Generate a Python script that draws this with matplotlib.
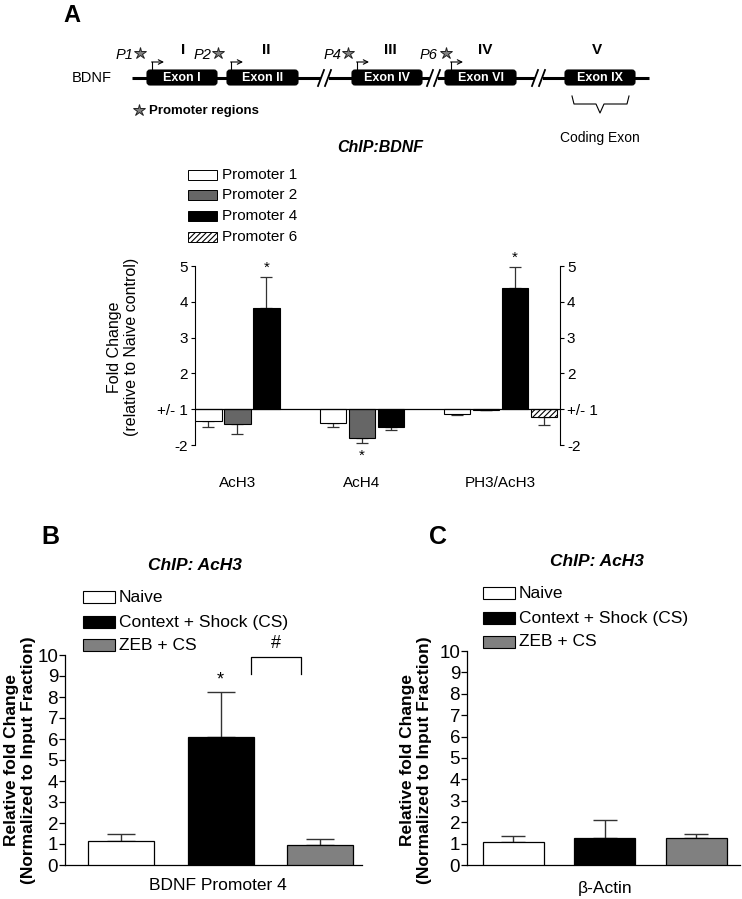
import numpy as np
import matplotlib
matplotlib.use("Agg")
import matplotlib.pyplot as plt
from matplotlib.patches import FancyBboxPatch, Rectangle

plt.rcParams['font.family'] = ['Liberation Sans', 'DejaVu Sans']
plt.rcParams['hatch.linewidth'] = 0.8

W, H = 742, 899
fig = plt.figure(figsize=(W / 100, H / 100), dpi=100)

# ---------------- data ----------------
# Panel A: fold change relative to naive (negative = fold decrease)
a_groups = ["AcH3", "AcH4", "PH3/AcH3"]
a_series = ["Promoter 1", "Promoter 2", "Promoter 4", "Promoter 6"]
a_p1 = [-1.33, -1.38, -1.14]
a_p1_err = [0.17, 0.11, 0.02]
a_p2 = [-1.40, -1.80, -1.03]
a_p2_err = [0.29, 0.15, 0.0]
a_p4 = [3.82, -1.50, 4.39]
a_p4_err = [0.86, 0.08, 0.57]
a_p6 = [np.nan, np.nan, -1.23]
a_p6_err = [np.nan, np.nan, 0.22]
a_tick_values = [-2, 1, 2, 3, 4, 5]
a_tick_labels = ["-2", "+/- 1", "2", "3", "4", "5"]
a_sig = [(0, 2), (1, 1), (2, 2)]  # (group, series) marked with *

# Panels B and C
bc_groups = ["Naive", "Context + Shock (CS)", "ZEB + CS"]
b_values = [1.14, 6.11, 0.94]
b_err = [0.32, 2.11, 0.28]
c_values = [1.09, 1.28, 1.25]
c_err = [0.28, 0.82, 0.21]
bc_ticks = list(range(0, 11))

# ---------------- helpers ----------------
def axes_px(x0, y0, x1, y1):
    return fig.add_axes([x0 / W, 1 - y1 / H, (x1 - x0) / W, (y1 - y0) / H])

ov = fig.add_axes([0, 0, 1, 1])
ov.set_xlim(0, W)
ov.set_ylim(H, 0)
ov.axis('off')
ov.patch.set_alpha(0)

def to_axis(f):
    f = np.asarray(f, dtype=float)
    return np.where(f >= 0, f - 1, f + 1)

# ---------------- Panel A diagram ----------------
ov.text(72, 15, "A", fontsize=17, fontweight='bold', ha='center', va='center')
ov.text(92, 78, "BDNF", fontsize=10.5, ha='center', va='center')
ov.plot([132, 649], [78, 78], color='black', lw=2.2, solid_capstyle='butt', zorder=1)

exons = [("Exon I", 147, 217), ("Exon II", 227, 298), ("Exon IV", 352, 422),
         ("Exon VI", 445, 516), ("Exon IX", 565, 635)]
for name, x0, x1 in exons:
    ov.add_patch(FancyBboxPatch((x0, 70), x1 - x0, 15,
                                boxstyle="round,pad=0,rounding_size=3",
                                fc='black', ec='black', lw=0.8, zorder=3))
    ov.text((x0 + x1) / 2, 78, name, color='white', fontsize=9,
            fontweight='bold', ha='center', va='center', zorder=4)

for bx in [325, 434, 539]:
    ov.add_patch(Rectangle((bx - 4, 74), 8, 8, fc='white', ec='none', zorder=2))
    for dx in (-4, 3):
        ov.plot([bx + dx - 3, bx + dx + 3], [86, 70], color='black', lw=1.3, zorder=2)

# promoter labels and transcription-start arrows
proms = [("P1", 133, 140, 152), ("P2", 211, 218, 231),
         ("P4", 341, 348, 357), ("P6", 437, 446, 451)]
for lab, tx, sx, ax_ in proms:
    ov.text(tx, 55, lab, fontsize=10.5, style='italic', ha='right', va='center')
    ov.plot([sx], [53], marker='*', ms=9, mfc='#808080', mec='#222222', mew=0.7)
    ov.plot([ax_, ax_], [70, 62], color='black', lw=0.8)
    ov.annotate('', xy=(ax_ + 12, 62), xytext=(ax_ - 0.4, 62),
                arrowprops=dict(arrowstyle='->', lw=0.8, shrinkA=0, shrinkB=0,
                                mutation_scale=8))

for lab, x in [("I", 183), ("II", 266), ("III", 390), ("IV", 485), ("V", 597)]:
    ov.text(x, 50, lab, fontsize=11, fontweight='bold', ha='center', va='center')

ov.plot([139], [110], marker='*', ms=9, mfc='#808080', mec='#222222', mew=0.7)
ov.text(149, 111, "Promoter regions", fontsize=9.5, fontweight='bold',
        ha='left', va='center')

# brace under exon IX
bx0, bx1, bm = 572, 629, 600
ov.plot([bx0, bx0 + 2, bm - 4, bm, bm + 4, bx1 - 2, bx1],
        [96, 104, 104, 113, 104, 104, 96], color='black', lw=0.8)
ov.text(600, 138, "Coding Exon", fontsize=10, ha='center', va='center')

# ---------------- Panel A chart ----------------
ov.text(380, 148, "ChIP:BDNF", fontsize=11.5, fontweight='bold', style='italic',
        ha='center', va='center')

a_colors = ['white', '#666666', 'black', 'white']
a_hatch = [None, None, None, '//////']
leg_y = [175, 195, 216, 237]
for lab, col, hat, y in zip(a_series, a_colors, a_hatch, leg_y):
    ov.add_patch(Rectangle((188, y - 5), 29, 10, fc=col, ec='black', lw=0.7,
                           hatch=hat))
    ov.text(222, y, lab, fontsize=11, ha='left', va='center')

axA = axes_px(195, 266, 560, 445)
axA.set_xlim(0, 12.59)
axA.set_ylim(-1, 4)
group_start = np.arange(len(a_groups)) * 4.29
a_vals = [a_p1, a_p2, a_p4, a_p6]
a_errs = [a_p1_err, a_p2_err, a_p4_err, a_p6_err]
bar_x = {}
for i, (vals, errs) in enumerate(zip(a_vals, a_errs)):
    xs = group_start + i + 0.46
    ys = to_axis(vals)
    e = np.asarray(errs, dtype=float)
    axA.bar(xs, ys, width=0.91, color=a_colors[i], edgecolor='black', lw=0.8,
            hatch=a_hatch[i], zorder=3)
    lower = np.where(ys < 0, e, 0)
    upper = np.where(ys >= 0, e, 0)
    ok = ~np.isnan(ys)
    axA.errorbar(xs[ok], ys[ok], yerr=[lower[ok], upper[ok]], fmt='none',
                 ecolor='#333333', elinewidth=0.9, capsize=4.5, capthick=0.9,
                 zorder=2)
    for g in range(len(a_groups)):
        bar_x[(g, i)] = (xs[g], ys[g], e[g])

for g, i in a_sig:
    x, y, e = bar_x[(g, i)]
    if y >= 0:
        axA.annotate('*', (x, y + e), xytext=(0, 2), textcoords='offset points',
                     ha='center', va='bottom', fontsize=11)
    else:
        axA.annotate('*', (x, y - e), xytext=(0, -14), textcoords='offset points',
                     ha='center', va='bottom', fontsize=11)

axA.axhline(0, color='black', lw=0.9, zorder=4)
for s in ['top', 'bottom']:
    axA.spines[s].set_visible(False)
for s in ['left', 'right']:
    axA.spines[s].set_linewidth(0.8)
axA.set_yticks(to_axis(a_tick_values))
axA.set_yticklabels(a_tick_labels)
axA.tick_params(axis='y', which='both', direction='out', length=3, width=0.8,
                labelsize=11, left=True, right=True, labelleft=True,
                labelright=True, pad=2)
label_x = []
for g in range(len(a_groups)):
    xs = [bar_x[(g, i)][0] for i in range(4) if not np.isnan(bar_x[(g, i)][1])]
    label_x.append(np.mean(xs))
axA.set_xticks(label_x)
axA.set_xticklabels(a_groups, fontsize=11)
axA.tick_params(axis='x', length=0, pad=22)
axA.patch.set_alpha(0)

ov.text(123, 347, "Fold Change\n(relative to Naive control)", fontsize=11.5,
        rotation=90, ha='center', va='center', multialignment='center',
        linespacing=1.1)

# ---------------- Panels B and C ----------------
bc_colors = ['white', 'black', '#808080']

def bc_panel(box, xlim, values, errs, letter, lpos, title_pos, leg_x, leg_ys,
             ylab_x, xlabel, xlab_pos, capsize):
    ov.text(lpos[0], lpos[1], letter, fontsize=18, fontweight='bold',
            ha='center', va='center')
    ov.text(title_pos[0], title_pos[1], "ChIP: AcH3", fontsize=12.5,
            fontweight='bold', style='italic', ha='center', va='center')
    for lab, col, y in zip(bc_groups, bc_colors, leg_ys):
        ov.add_patch(Rectangle((leg_x, y - 6), 32, 12, fc=col, ec='black', lw=0.8))
        ov.text(leg_x + 36, y, lab, fontsize=12.5, ha='left', va='center')
    ax = axes_px(*box)
    ax.set_xlim(*xlim)
    ax.set_ylim(0, 10)
    xs = np.arange(len(values))
    ax.bar(xs, values, width=0.665, color=bc_colors, edgecolor='black', lw=0.9,
           zorder=3)
    ax.errorbar(xs, values, yerr=[np.zeros(len(errs)), errs], fmt='none',
                ecolor='#333333', elinewidth=1.0, capsize=capsize, capthick=1.0,
                zorder=2)
    for s in ['top', 'right']:
        ax.spines[s].set_visible(False)
    ax.spines['left'].set_linewidth(0.9)
    ax.spines['bottom'].set_linewidth(0.9)
    ax.set_yticks(bc_ticks)
    ax.tick_params(axis='y', direction='out', length=4, width=0.9,
                   labelsize=13.5, pad=1)
    ax.set_xticks([])
    ax.patch.set_alpha(0)
    ov.text(ylab_x, 760, "Relative fold Change\n(Normalized to Input Fraction)",
            fontsize=12.5, fontweight='bold', rotation=90, ha='center',
            va='center', multialignment='center', linespacing=1.1)
    ov.text(xlab_pos[0], xlab_pos[1], xlabel, fontsize=12.5, ha='center',
            va='center')
    return ax

axB = bc_panel((65, 655, 362, 865), (-0.563, 2.42), b_values, b_err, "B",
               (50, 537), (195, 566), 83, [597, 622, 645], 20,
               "BDNF Promoter 4", (218, 885), 10)
axB.annotate('*', (1, b_values[1] + b_err[1]), xytext=(0, 3),
             textcoords='offset points', ha='center', va='bottom', fontsize=13)
# bracket between CS and ZEB+CS
bx_l = 1 + 0.31
bx_r = 2 - 0.19
axB.plot([bx_l, bx_l, bx_r, bx_r], [9.1, 9.9, 9.9, 9.1], color='black', lw=0.9,
         clip_on=False)
axB.text((bx_l + bx_r) / 2, 10.15, "#", fontsize=13, ha='center', va='bottom')

axC = bc_panel((467, 651, 740, 865), (-0.509, 2.48), c_values, c_err, "C",
               (438, 537), (597, 561), 483, [593, 618, 642], 416,
               "\u03b2-Actin", (605, 888), 8.5)

fig.savefig("out.png", dpi=100)
